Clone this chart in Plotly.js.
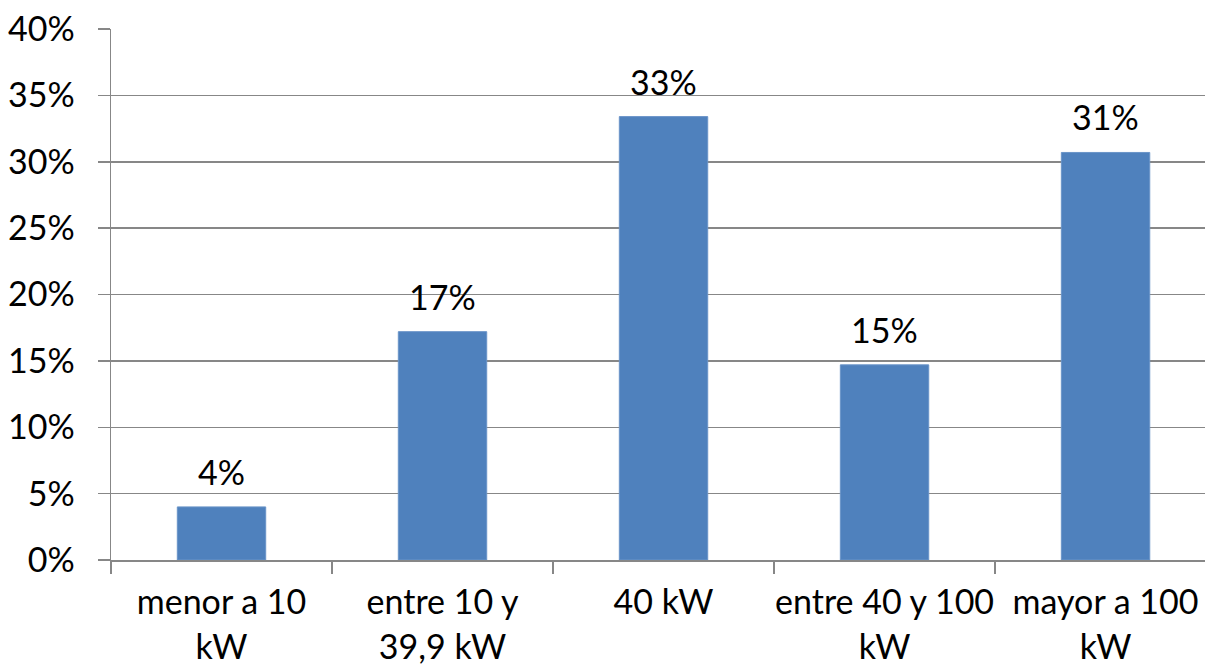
<!DOCTYPE html>
<html>
<head>
<meta charset="utf-8">
<script src="https://cdn.plot.ly/plotly-3.0.1.min.js"></script>
<style>html,body{margin:0;padding:0;background:#fff;}#chart{width:1205px;height:668px;}</style>
</head>
<body>
<div id="chart"></div>
<script>
const categories = ["menor a 10<br>kW", "entre 10 y<br>39,9 kW", "40 kW", "entre 40 y 100<br>kW", "mayor a 100<br>kW"];
const values = [0.040, 0.172, 0.334, 0.147, 0.307];
const labels = ["4%", "17%", "33%", "15%", "31%"];
const yTicks = [0, 0.05, 0.10, 0.15, 0.20, 0.25, 0.30, 0.35, 0.40];

const FONT = "Lato, 'Open Sans', sans-serif";
const GRID = "#878787";
const FS = 34;

const trace = {
  type: "bar",
  x: categories,
  y: values,
  marker: { color: "#4F81BD", line: { color: "#6A94C8", width: 1 } },
  width: 0.4,
  hoverinfo: "skip"
};

const annotations = values.map((v, i) => ({
  x: categories[i], y: v, xref: "x", yref: "y",
  text: labels[i], showarrow: false,
  yanchor: "bottom", yshift: 13,
  font: { family: FONT, size: FS, color: "#000" }
}));

const layout = {
  width: 1205, height: 668,
  margin: { l: 111, r: 0, t: 29, b: 108, pad: 0 },
  paper_bgcolor: "#fff", plot_bgcolor: "#fff",
  showlegend: false,
  font: { family: FONT, size: FS, color: "#000" },
  xaxis: {
    type: "category",
    range: [-0.5, 4.45],
    tickson: "boundaries",
    tickangle: 0,
    ticks: "outside", ticklen: 12, tickwidth: 1.5, tickcolor: GRID,
    showline: true, linecolor: GRID, linewidth: 1.5,
    showgrid: false, zeroline: false,
    ticklabelstandoff: 12,
    tickfont: { family: FONT, size: FS, color: "#000" },
    fixedrange: true
  },
  yaxis: {
    range: [0, 0.4],
    tickmode: "array",
    tickvals: yTicks,
    tickformat: ".0%",
    ticks: "outside", ticklen: 12, tickwidth: 1.5, tickcolor: GRID,
    showline: true, linecolor: GRID, linewidth: 1.5,
    showgrid: true, gridcolor: GRID, gridwidth: 1.5,
    zeroline: false,
    ticklabelstandoff: 16,
    tickfont: { family: FONT, size: FS, color: "#000" },
    fixedrange: true
  },
  annotations: annotations
};

Plotly.newPlot("chart", [trace], layout, { displayModeBar: false, staticPlot: true });
</script>
</body>
</html>
